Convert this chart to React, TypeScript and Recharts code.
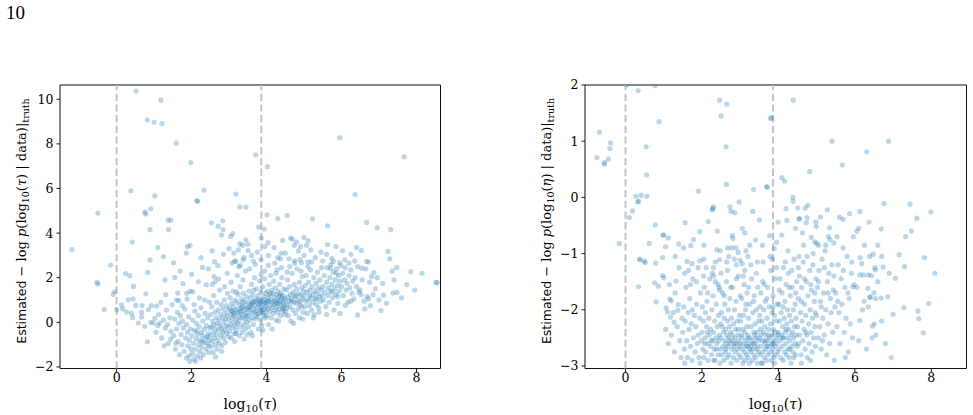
import React from 'react';
import { ScatterChart, Scatter, XAxis, YAxis, ReferenceLine, ReferenceArea } from 'recharts';

// ---------- data ----------
const tauPoints: [number, number][] = [
  [-1.19,3.27],[-0.5,4.9],[-0.52,1.79],[-0.5,1.72],[-0.16,2.57],[-0.33,0.58],[-0.09,1.25],[-0.05,1.37],[0,0.57],[0.13,0.78],[0.16,0.6],[0.24,2.19],[0.35,2.09],[0.42,3.6],[0.45,1.61],[0.31,1.01],[0.44,1.05],[0.27,0.46],[0.4,0.4],[0.43,0.21],[0.51,0.76],[0.68,0.75],[0.85,0.57],[1.07,0.73],[0.93,0.75],[0.58,-0.03],[0.75,-0.18],[0.82,-0.87],[0.67,0.45],[0.67,0.24],[0.91,0.0],[1.02,0.18],[0.98,-0.03],[1.15,-0.03],[0.78,1.28],[0.83,2.24],[0.89,2.8],[0.89,4.16],[1.29,1.9],[1.31,1.24],[1.55,2.01],[1.52,2.67],[1.89,3.39],[1.96,3.45],[1.86,3.1],[2.14,5.45],[1.63,1.31],[1.66,0.97],[1.77,1.74],[1.87,1.3],[1.96,1.39],[2.03,1.37],[2.18,1.82],[2.29,2.46],[2.39,1.69],[2.61,2.72],[2.63,1.83],
  [0.52,10.37],[1.18,9.96],[0.82,9.07],[1.0,8.97],[1.21,8.91],[1.59,8.03],[1.98,7.16],[3.71,7.51],[0.38,5.9],[1.02,5.67],[2.33,5.93],[2.16,5.43],[3.18,5.75],[3.29,5.17],[3.45,5.17],[0.75,4.94],[0.78,4.86],[0.91,5.09],[1.38,4.58],[1.45,4.58],[2.53,4.46],[2.83,4.55],[2.71,4.31],[2.84,4.16],[1.39,4.16],[3.79,4.27],[4.02,6.98],[5.95,8.28],[7.67,7.42],[6.36,5.73],[4.01,4.82],[4.3,4.65],[4.55,4.79],[5.23,4.64],[5.63,4.33],[6.67,4.48],[6.95,4.24],[7.31,4.16],[3.94,4.18],[3.04,3.85],[3.1,3.98],[2.8,3.91],[3.29,3.52],[3.36,3.46],[3.51,3.22],[3.13,3.1],[3.18,2.73],[3.37,2.79],[3.08,2.66],
  [7.74,1.69],[7.48,1.34],[7.37,1.31],[7.12,1.22],[7.05,0.53],[6.43,0.33],[8.52,1.79],[7.29,2.85],[7.47,2.45],[7.35,2.3],[7.85,2.27],[7.24,3.18],[6.53,3.22],[6.03,3.21],
  [4.64,3.78],[4.43,3.67],[4.69,3.73],[4.04,3.57],[3.86,3.78],[5.11,3.66],[5.07,3.45],[4.91,3.4],[5.18,3.25],[4.74,3.45],[5.63,3.49],[6.67,2.73],[6.72,2.7],[6.86,2.24],[6.54,2.43],[6.65,2.4],[6.49,1.46],[6.52,1.24],[6.68,1.16],[6.72,1.05],[6.77,0.75],[6.84,1.24],[5.96,0.4],[4.39,3.09],[4.37,2.85],[4.75,2.76],[4.89,2.81],[4.93,2.67],[5.1,2.71],[5.74,2.87],[5.78,2.73],[5.95,2.68],[6.09,2.8],[6.2,2.66],[5.71,2.43],[5.86,2.21],
  [1.05,-0.45],[1.12,0.35],[1.2,-0.7],[1.25,0.1],[1.3,-0.25],[1.33,0.55],[1.38,-0.95],[1.42,0.2],[1.45,-0.4],[1.48,0.8],[1.18,0.9],[1.36,-0.1],[1.1,-0.15],[1.27,-1.05],[1.44,-0.75],
  [1.52,-0.6],[1.55,0.15],[1.57,-1.2],[1.6,-0.3],[1.62,0.45],[1.64,-0.85],[1.66,-0.05],[1.68,-1.45],[1.7,0.3],[1.72,-0.55],[1.74,-1.0],[1.76,0.05],[1.78,-0.25],[1.8,-1.3],[1.82,0.6],[1.84,-0.7],[1.86,-1.6],[1.87,-0.1],[1.89,-0.45],[1.9,-1.05],[1.92,0.25],[1.94,-0.8],[1.95,-1.75],[1.97,-0.3],[1.98,-1.2],[1.6,1.0],[1.75,0.75],[1.88,1.05],[1.58,-0.95],[1.93,-1.5],
  [2.01,-0.6],[2.02,-1.4],[2.03,0.1],[2.05,-0.95],[2.06,-1.65],[2.08,-0.35],[2.09,0.5],[2.1,-1.2],[2.12,-0.75],[2.13,-0.05],[2.15,-1.5],[2.16,-0.55],[2.18,0.3],[2.19,-1.0],[2.2,-0.2],[2.22,-1.3],[2.23,-0.8],[2.25,0.65],[2.26,-0.45],[2.27,-1.1],[2.29,-0.6],[2.3,0.05],[2.31,-1.45],[2.33,-0.9],[2.34,-0.3],[2.36,0.4],[2.37,-0.7],[2.38,-1.2],[2.4,-0.15],[2.41,-0.95],[2.43,0.2],[2.44,-0.5],[2.45,-1.35],[2.47,-0.8],[2.48,0.9],[2.49,-0.25],[2.07,0.8],[2.21,1.1],[2.35,1.0],[2.14,-0.4],[2.28,-0.85],[2.42,-0.65],[2.11,-1.75],[2.24,-1.6],[2.46,-1.05],
  [2.5,-0.6],[2.51,0.35],[2.52,-1.1],[2.53,-0.2],[2.54,0.7],[2.55,-0.85],[2.56,0.05],[2.57,-1.35],[2.58,-0.45],[2.59,1.2],[2.6,-0.1],[2.61,-0.7],[2.62,0.45],[2.63,-1.0],[2.64,-0.3],[2.65,0.2],[2.66,-0.55],[2.67,0.9],[2.68,-1.2],[2.69,-0.05],[2.7,-0.8],[2.71,0.55],[2.72,-0.35],[2.73,0.1],[2.74,-0.95],[2.75,1.45],[2.76,-0.15],[2.77,0.35],[2.78,-0.6],[2.79,0.8],[2.8,-0.25],[2.81,-1.05],[2.82,0.2],[2.83,-0.45],[2.84,0.6],[2.85,-0.7],[2.86,0.0],[2.87,1.0],[2.88,-0.35],[2.89,0.4],[2.9,-0.9],[2.91,0.15],[2.92,-0.15],[2.93,0.75],[2.94,-0.5],[2.95,0.3],[2.96,1.3],[2.97,-0.2],[2.98,0.55],[2.99,-0.65],[2.55,1.7],[2.72,1.95],[2.88,1.6],[2.64,-1.55],[2.8,-1.3],
  [3.0,0.1],[3.01,-0.4],[3.02,0.65],[3.03,1.1],[3.04,-0.1],[3.05,0.35],[3.06,-0.7],[3.07,0.85],[3.08,0.2],[3.09,-0.25],[3.1,0.5],[3.11,1.4],[3.12,0.0],[3.13,0.7],[3.14,-0.5],[3.15,0.3],[3.16,1.0],[3.17,-0.15],[3.18,0.55],[3.19,0.15],[3.2,-0.35],[3.21,0.9],[3.22,0.4],[3.23,-0.05],[3.24,1.25],[3.25,0.6],[3.26,0.05],[3.27,-0.6],[3.28,0.8],[3.29,0.25],[3.3,1.6],[3.31,-0.2],[3.32,0.5],[3.33,1.05],[3.34,0.2],[3.35,-0.45],[3.36,0.7],[3.37,0.35],[3.38,1.3],[3.39,-0.1],[3.4,0.55],[3.41,0.95],[3.42,0.15],[3.43,-0.3],[3.44,0.75],[3.45,0.4],[3.46,1.15],[3.47,0.0],[3.48,0.6],[3.49,-0.55],[3.05,1.8],[3.22,2.1],[3.37,1.9],[3.15,-0.85],[3.44,2.3],[3.28,0.45],[3.12,0.4],[3.35,0.9],[3.47,0.25],[3.18,-0.5],[3.26,2.5],[3.4,-0.75],[3.07,0.5],[3.33,0.65],[3.2,1.35],
  [3.5,0.3],[3.51,0.9],[3.52,-0.2],[3.53,1.4],[3.54,0.55],[3.55,0.1],[3.56,1.1],[3.57,0.7],[3.58,-0.45],[3.59,0.4],[3.6,1.7],[3.61,0.85],[3.62,0.2],[3.63,1.25],[3.64,0.6],[3.65,-0.1],[3.66,0.95],[3.67,0.45],[3.68,2.0],[3.69,0.75],[3.7,0.15],[3.71,1.05],[3.72,0.5],[3.73,1.5],[3.74,0.9],[3.75,0.25],[3.76,0.65],[3.77,1.2],[3.78,-0.3],[3.79,0.8],[3.8,0.4],[3.81,1.85],[3.82,1.0],[3.83,0.55],[3.84,0.1],[3.85,1.35],[3.86,0.7],[3.87,-0.15],[3.88,0.95],[3.89,0.45],[3.9,1.6],[3.91,0.8],[3.92,0.3],[3.93,1.15],[3.94,0.6],[3.95,2.3],[3.96,0.9],[3.97,0.2],[3.98,1.3],[3.99,0.7],[3.55,2.4],[3.7,2.6],[3.85,2.15],[3.62,-0.6],[3.9,-0.35],[3.58,0.8],[3.74,0.35],[3.82,0.85],[3.66,1.45],[3.94,1.0],[3.52,0.65],[3.78,1.0],[3.88,0.55],[3.63,0.9],[3.96,0.45],
  [4.0,0.85],[4.01,0.3],[4.02,1.4],[4.03,0.6],[4.04,1.1],[4.05,-0.1],[4.06,0.95],[4.07,1.7],[4.08,0.5],[4.09,1.2],[4.1,0.75],[4.11,2.1],[4.12,0.2],[4.13,1.0],[4.14,1.45],[4.15,0.65],[4.16,0.9],[4.17,1.3],[4.18,0.4],[4.19,1.85],[4.2,0.8],[4.21,1.1],[4.22,0.55],[4.23,1.55],[4.24,0.95],[4.25,0.1],[4.26,1.25],[4.27,0.7],[4.28,2.35],[4.29,1.0],[4.3,0.45],[4.31,1.4],[4.32,0.85],[4.33,1.15],[4.34,0.6],[4.35,1.7],[4.36,0.95],[4.37,0.3],[4.38,1.3],[4.39,0.8],[4.4,1.05],[4.41,2.0],[4.42,0.65],[4.43,1.2],[4.44,0.5],[4.45,0.9],[4.46,1.5],[4.47,0.75],[4.48,1.1],[4.49,0.35],[4.05,2.55],[4.22,2.65],[4.4,2.45],[4.15,-0.3],[4.32,0.05],[4.1,1.3],[4.26,0.85],[4.36,1.2],[4.45,0.6],[4.03,0.95],
  [4.5,1.0],[4.51,0.5],[4.53,1.45],[4.54,0.8],[4.56,1.9],[4.57,1.15],[4.58,0.3],[4.6,0.95],[4.61,1.6],[4.63,0.7],[4.64,1.25],[4.65,0.05],[4.67,1.05],[4.68,2.2],[4.7,0.55],[4.71,1.35],[4.73,0.9],[4.74,1.7],[4.76,1.15],[4.77,0.4],[4.79,0.85],[4.8,1.5],[4.81,2.4],[4.83,1.0],[4.84,0.6],[4.86,1.3],[4.87,0.2],[4.88,1.8],[4.9,0.95],[4.91,1.2],[4.93,0.7],[4.94,1.55],[4.95,2.05],[4.97,1.05],[4.98,0.45],[4.99,1.4],[4.55,0.65],[4.66,0.95],[4.78,1.2],[4.89,0.8],[4.62,2.5],[4.75,2.65],[4.92,2.3],[4.72,-0.05],[4.96,0.15],
  [5.0,1.2],[5.02,0.7],[5.03,1.65],[5.05,0.95],[5.06,2.1],[5.08,1.35],[5.09,0.4],[5.11,1.0],[5.12,1.8],[5.14,0.75],[5.15,1.45],[5.17,2.35],[5.18,1.1],[5.2,0.55],[5.21,1.6],[5.23,0.9],[5.24,1.25],[5.26,2.0],[5.27,0.35],[5.29,1.4],[5.3,1.05],[5.32,1.75],[5.33,0.8],[5.35,1.3],[5.36,2.25],[5.38,1.55],[5.39,0.65],[5.41,1.15],[5.42,1.9],[5.44,0.95],[5.45,1.45],[5.47,2.45],[5.48,1.2],[5.1,2.5],[5.25,0.2],[5.4,0.45],[5.15,1.2],[5.33,1.05],
  [5.5,1.6],[5.52,1.0],[5.54,2.1],[5.56,1.35],[5.58,0.7],[5.6,1.8],[5.62,2.45],[5.63,1.2],[5.65,1.55],[5.67,0.9],[5.69,2.0],[5.7,1.4],[5.72,2.6],[5.74,1.7],[5.76,1.1],[5.78,2.25],[5.8,0.55],[5.81,1.5],[5.83,1.9],[5.85,1.25],[5.87,2.4],[5.89,1.65],[5.9,0.85],[5.92,2.1],[5.94,1.4],[5.96,1.85],[5.98,2.55],[5.6,0.35],[5.75,1.35],[5.9,1.15],
  [6.0,1.6],[6.03,2.2],[6.05,1.2],[6.08,1.9],[6.1,2.45],[6.12,1.45],[6.15,1.75],[6.17,0.9],[6.2,2.1],[6.22,1.55],[6.25,2.35],[6.28,1.3],[6.3,1.85],[6.33,1.05],[6.36,2.0],[6.4,1.6],[6.43,2.5],[6.46,1.35],[6.1,0.75],[6.25,0.95],
  [6.55,1.9],[6.6,0.95],[6.75,1.8],[6.9,1.5],[6.95,2.0],[7.0,1.0],[7.1,1.75],[7.2,0.85],[7.4,1.9],[6.62,0.6],[6.8,2.05],[7.6,1.1],[7.95,1.45],[8.15,2.2],[8.55,1.78],
  [1.7,2.3],[2.0,2.15],[2.25,2.9],[2.45,2.4],[2.55,3.2],[2.7,2.55],[2.85,3.05],[2.95,2.2],[3.0,3.3],[3.15,2.75],[3.25,3.25],[3.4,2.9],[3.5,3.5],[3.6,3.0],[3.75,3.15],[3.85,2.8],[3.95,3.4],[4.05,3.0],[4.2,3.35],[4.3,2.9],[4.5,3.1],[4.6,2.85],[4.85,3.2],[5.0,3.0],[5.3,2.9],[5.45,3.15],[5.6,3.05],[5.85,3.4],[6.25,3.05],[6.4,3.35],[3.95,1.95],[4.25,2.2],[4.55,2.25],[5.2,2.7],[5.5,2.75],[6.35,2.75],[3.3,2.55],[3.65,2.75],[2.6,2.05],[4.8,3.6],[5.0,3.8],[3.45,3.7],[1.25,2.95],[1.1,3.35],
];

const etaPoints: [number, number][] = [
  [-0.75,0.71],[-0.68,1.16],[-0.55,0.62],[-0.55,0.59],[-0.45,0.68],[-0.41,0.87],[-0.39,0.97],[-0.16,-0.82],[0.1,-0.36],[0.18,-0.24],[0.27,0.02],[0.32,-0.08],[0.37,-1.1],[0.34,-1.59],[0.03,2.0],[0.33,1.9],[0.77,1.99],[0.88,1.35],[0.54,0.9],[0.55,0.4],[0.41,0.04],[0.56,0.02],[0.34,-0.07],[0.78,-0.49],[1.56,-0.45],[1.91,0.11],[2.46,1.73],[2.65,1.66],[2.5,1.45],[2.63,0.9],[2.64,0.23],[2.3,-0.17],[2.27,-0.22],[2.73,-0.17],[2.76,-0.25],[2.86,-0.27],[2.97,-0.08],[2.17,-0.43],[3.35,0.14],[3.33,-0.25],[3.69,0.19],[3.71,0.18],[3.79,1.41],[3.82,1.41],[3.99,-0.44],[4.22,-0.41],[4.39,1.73],[4.09,0.35],[4.16,0.29],[4.38,0.0],[4.38,-0.07],[4.51,-0.19],[4.53,-0.38],
  [6.31,0.81],[5.67,0.58],[4.82,0.46],[4.77,-0.14],[4.7,-0.19],[5.28,-0.22],[6.76,-0.11],[7.44,-0.12],[7.99,-0.26],[7.62,-0.37],[6.13,-0.25],[5.86,-0.29],[5.69,-0.39],[6.37,-0.44],[6.69,-0.56],[7.48,-0.6],[7.33,-0.7],[4.56,-0.38],[4.75,-0.36],[4.73,-0.45],[4.98,-0.44],[4.99,-0.52],[5.34,-0.54],[4.09,-0.67],[4.63,-0.63],[4.86,-0.71],[5.31,-0.7],[5.53,-0.7],[4.95,-0.79],[5.0,-0.82],[5.24,-0.85],[5.45,-0.81],[5.4,1.0],[6.88,1.0],
  [7.93,-1.89],[7.65,-2.02],[7.67,-2.16],[7.28,-1.96],[7.79,-2.41],[7.0,-2.08],[6.86,-1.77],[6.69,-1.79],[6.54,-1.8],[6.5,-1.7],[6.4,-1.78],[6.24,-1.85],[6.13,-2.19],[6.51,-2.25],[6.55,-2.45],[6.46,-2.29],[7.06,-1.44],[7.16,-1.02],[7.3,-1.23],[7.82,-1.07],[8.09,-1.35],[6.48,-1.01],[6.39,-1.05],[6.14,-1.07],[6.18,-1.18],[6.52,-1.25],[6.54,-1.29],[6.74,-1.24],[6.43,-1.39],[6.13,-1.38],[6.22,-1.38],[6.35,-1.38],[5.95,-1.59],[6.34,-1.62],[6.39,-1.77],
  [0.38,-1.11],[0.5,-1.13],[0.51,-1.16],[0.62,-0.82],[0.79,-1.17],[0.76,-1.52],[0.86,-1.58],[0.8,-1.86],[0.97,-1.07],[0.98,-0.67],[1.0,-0.67],[1.12,-0.72],[1.05,-0.88],[0.97,-1.39],[1.0,-1.43],[1.06,-1.97],[1.1,-2.04],[1.18,-2.13],[1.27,-2.22],[1.16,-1.81],[1.2,-1.84],[1.32,-1.49],[1.38,-1.91],[1.37,-2.01],[1.39,-0.83],[1.52,-0.9],[1.61,-1.14],[1.74,-1.18],[1.71,-0.86],[1.78,-0.75],[1.94,-0.61],[1.95,-1.13],[2.04,-1.4],[2.28,-0.2],[3.12,-0.63],[2.79,-0.68],[2.81,-0.73],[2.67,-0.9],[2.78,-0.9],[2.89,-0.9],[2.95,-0.98],[3.4,-0.76],[3.77,-0.68],[3.89,-0.91],[2.39,-0.93],[2.48,-0.95],[2.46,-1.11],[2.65,-1.15],[2.85,-1.1],[2.9,-1.2],[3.0,-1.12],[3.05,-1.18],[3.2,-1.05],[3.25,-0.85],[2.3,-1.25],[2.3,-1.4],[2.35,-1.5],[2.42,-1.55],[2.45,-1.6],
  [1.55,-1.35],[1.7,-1.55],[1.9,-1.25],[2.05,-1.1],[2.15,-1.7],[2.35,-1.15],[2.5,-1.35],[2.58,-1.75],[2.7,-1.05],[2.75,-1.6],[2.9,-1.45],[3.0,-1.75],[3.08,-1.4],[3.15,-1.9],[3.22,-1.6],[3.35,-1.85],[3.45,-1.15],[3.52,-1.95],[3.63,-1.55],[3.7,-1.8],[3.78,-1.05],[3.85,-1.95],[3.95,-1.25],[4.02,-1.65],[4.12,-1.95],[4.18,-1.15],[4.28,-1.6],[4.35,-1.3],[4.45,-1.7],[4.52,-1.25],[4.6,-1.85],[4.68,-1.45],[4.75,-1.05],[4.85,-1.55],[4.95,-1.7],[5.05,-1.5],[5.12,-1.95],[5.2,-1.25],[5.3,-1.7],[5.45,-1.4],[5.55,-1.85],[5.7,-1.3],[5.82,-1.7],[5.92,-1.15],[3.05,-0.55],[3.5,-0.4],[3.95,-0.8],[4.45,-0.55],[2.4,-0.6],[2.05,-0.85],[1.3,-1.05],[5.6,-0.35],[5.1,-0.35],[4.2,-0.2],[3.58,-0.85],[3.15,-0.95],[6.1,-0.55],[6.25,-0.85],[6.7,-1.05],
  [1.05,-2.35],[1.12,-2.6],[1.2,-2.45],[1.28,-2.75],[1.35,-2.3],[1.42,-2.55],[1.48,-2.15],[1.15,-1.55],[1.3,-1.7],[1.45,-2.85],[1.25,-2.05],[1.4,-1.25],
  [1.5,-2.4],[1.52,-1.95],[1.54,-2.7],[1.56,-2.2],[1.58,-1.6],[1.6,-2.55],[1.62,-2.85],[1.64,-2.05],[1.66,-2.35],[1.68,-1.8],[1.7,-2.65],[1.72,-2.25],[1.74,-2.9],[1.76,-1.45],[1.78,-2.5],[1.8,-2.1],[1.82,-2.75],[1.84,-2.3],[1.86,-1.9],[1.88,-2.6],[1.9,-2.45],[1.92,-2.85],[1.94,-2.15],[1.96,-1.7],[1.98,-2.55],[1.65,-1.3],[1.85,-1.5],[1.75,-2.0],[1.95,-2.95],[1.55,-2.95],
  [2.0,-2.4],[2.01,-1.95],[2.02,-2.7],[2.04,-2.2],[2.05,-2.85],[2.06,-1.6],[2.08,-2.5],[2.09,-2.05],[2.1,-2.75],[2.12,-2.3],[2.13,-1.85],[2.15,-2.6],[2.16,-2.9],[2.18,-2.15],[2.19,-2.45],[2.2,-1.45],[2.22,-2.65],[2.23,-2.35],[2.25,-2.8],[2.26,-2.0],[2.28,-2.55],[2.29,-1.75],[2.3,-2.4],[2.32,-2.7],[2.33,-2.2],[2.34,-2.9],[2.36,-2.5],[2.37,-1.9],[2.39,-2.6],[2.4,-2.3],[2.42,-2.8],[2.43,-2.1],[2.45,-2.45],[2.46,-1.65],[2.48,-2.7],[2.49,-2.25],[2.07,-2.6],[2.14,-2.4],[2.24,-2.55],[2.31,-2.9],[2.38,-2.7],[2.44,-2.55],[2.11,-1.25],[2.27,-1.35],[2.47,-2.95],
  [2.5,-2.5],[2.51,-2.05],[2.52,-2.8],[2.53,-2.3],[2.54,-1.7],[2.55,-2.65],[2.56,-2.4],[2.57,-2.9],[2.58,-2.15],[2.59,-2.55],[2.6,-1.9],[2.61,-2.75],[2.62,-2.35],[2.63,-2.6],[2.64,-1.5],[2.65,-2.45],[2.66,-2.85],[2.67,-2.2],[2.68,-2.65],[2.69,-2.0],[2.7,-2.5],[2.71,-2.8],[2.72,-2.3],[2.73,-1.8],[2.74,-2.6],[2.75,-2.4],[2.76,-2.95],[2.77,-2.15],[2.78,-2.7],[2.79,-2.45],[2.8,-1.6],[2.81,-2.55],[2.82,-2.85],[2.83,-2.25],[2.84,-2.65],[2.85,-2.0],[2.86,-2.5],[2.87,-2.75],[2.88,-2.35],[2.89,-1.85],[2.9,-2.6],[2.91,-2.9],[2.92,-2.2],[2.93,-2.7],[2.94,-2.45],[2.95,-1.4],[2.96,-2.55],[2.97,-2.8],[2.98,-2.1],[2.99,-2.65],[2.62,-2.7],[2.72,-2.55],[2.85,-2.6],[2.95,-2.35],[2.67,-1.3],
  [3.0,-2.6],[3.01,-2.2],[3.02,-2.85],[3.03,-2.45],[3.04,-1.8],[3.05,-2.7],[3.06,-2.35],[3.07,-2.95],[3.08,-2.1],[3.09,-2.6],[3.1,-1.55],[3.11,-2.75],[3.12,-2.4],[3.13,-2.9],[3.14,-2.0],[3.15,-2.55],[3.16,-2.8],[3.17,-2.3],[3.18,-1.7],[3.19,-2.65],[3.2,-2.45],[3.21,-2.85],[3.22,-2.15],[3.23,-2.6],[3.24,-2.95],[3.25,-1.9],[3.26,-2.5],[3.27,-2.75],[3.28,-2.3],[3.29,-2.65],[3.3,-1.45],[3.31,-2.55],[3.32,-2.9],[3.33,-2.05],[3.34,-2.7],[3.35,-2.4],[3.36,-2.8],[3.37,-1.75],[3.38,-2.6],[3.39,-2.25],[3.4,-2.85],[3.41,-2.5],[3.42,-2.0],[3.43,-2.7],[3.44,-2.4],[3.45,-2.95],[3.46,-1.6],[3.47,-2.55],[3.48,-2.75],[3.49,-2.2],[3.05,-2.5],[3.15,-2.65],[3.25,-2.7],[3.35,-2.6],[3.45,-2.65],[3.12,-1.3],[3.28,-1.2],[3.42,-1.35],[3.2,-2.5],[3.38,-2.45],
  [3.5,-2.5],[3.51,-2.1],[3.52,-2.8],[3.53,-2.35],[3.54,-1.7],[3.55,-2.65],[3.56,-2.95],[3.57,-2.2],[3.58,-2.55],[3.59,-1.5],[3.6,-2.75],[3.61,-2.4],[3.62,-2.0],[3.63,-2.85],[3.64,-2.3],[3.65,-2.6],[3.66,-1.85],[3.67,-2.7],[3.68,-2.45],[3.69,-2.9],[3.7,-2.15],[3.71,-2.55],[3.72,-1.6],[3.73,-2.8],[3.74,-2.35],[3.75,-2.65],[3.76,-1.95],[3.77,-2.5],[3.78,-2.75],[3.79,-2.25],[3.8,-1.3],[3.81,-2.6],[3.82,-2.9],[3.83,-2.05],[3.84,-2.45],[3.85,-2.7],[3.86,-1.75],[3.87,-2.35],[3.88,-2.85],[3.89,-2.55],[3.9,-2.1],[3.91,-2.65],[3.92,-1.45],[3.93,-2.4],[3.94,-2.8],[3.95,-2.2],[3.96,-2.6],[3.97,-1.9],[3.98,-2.75],[3.99,-2.45],[3.55,-2.45],[3.65,-2.55],[3.75,-2.45],[3.85,-2.6],[3.95,-2.5],[3.6,-1.15],[3.84,-1.1],[3.7,-2.65],[3.9,-2.95],[3.58,-2.95],
  [4.0,-2.4],[4.01,-1.9],[4.02,-2.7],[4.03,-2.2],[4.04,-1.45],[4.05,-2.55],[4.06,-2.85],[4.07,-2.05],[4.08,-2.45],[4.09,-1.7],[4.1,-2.65],[4.11,-2.3],[4.12,-2.9],[4.13,-1.25],[4.14,-2.5],[4.15,-2.15],[4.16,-2.75],[4.17,-1.85],[4.18,-2.4],[4.19,-2.6],[4.2,-1.55],[4.21,-2.8],[4.22,-2.25],[4.23,-2.5],[4.24,-2.0],[4.25,-2.7],[4.26,-1.35],[4.27,-2.35],[4.28,-2.85],[4.29,-2.1],[4.3,-2.55],[4.31,-1.75],[4.32,-2.45],[4.33,-2.95],[4.34,-2.2],[4.35,-2.65],[4.36,-1.6],[4.37,-2.4],[4.38,-2.75],[4.39,-2.0],[4.4,-2.5],[4.41,-1.1],[4.42,-2.3],[4.43,-2.6],[4.44,-1.9],[4.45,-2.8],[4.46,-2.15],[4.47,-2.45],[4.48,-1.5],[4.49,-2.65],[4.1,-2.5],[4.2,-2.35],[4.3,-2.7],[4.4,-2.85],[4.25,-0.95],
  [4.5,-2.3],[4.52,-1.8],[4.53,-2.6],[4.55,-1.4],[4.56,-2.45],[4.58,-2.05],[4.59,-2.8],[4.61,-1.6],[4.62,-2.2],[4.64,-2.55],[4.65,-1.15],[4.67,-2.35],[4.68,-1.9],[4.7,-2.7],[4.71,-2.1],[4.73,-1.5],[4.74,-2.45],[4.76,-2.85],[4.77,-1.75],[4.79,-2.25],[4.8,-2.6],[4.82,-1.3],[4.83,-2.0],[4.85,-2.4],[4.86,-1.65],[4.88,-2.75],[4.89,-2.15],[4.91,-1.0],[4.92,-2.5],[4.94,-1.85],[4.95,-2.3],[4.97,-2.65],[4.98,-1.45],[4.6,-2.95],[4.72,-2.4],[4.84,-2.9],[4.96,-2.05],[4.66,-0.85],[4.9,-1.2],[4.54,-1.05],
  [5.0,-2.1],[5.02,-1.6],[5.04,-2.5],[5.06,-1.3],[5.08,-2.3],[5.1,-1.85],[5.12,-2.7],[5.14,-1.1],[5.16,-2.15],[5.18,-1.7],[5.2,-2.45],[5.22,-0.95],[5.24,-2.0],[5.26,-2.8],[5.28,-1.5],[5.3,-2.25],[5.32,-1.35],[5.34,-2.6],[5.36,-1.8],[5.38,-2.05],[5.4,-1.2],[5.42,-2.4],[5.44,-1.65],[5.46,-2.9],[5.48,-1.95],[5.15,-2.55],[5.35,-0.75],[5.05,-0.85],
  [5.5,-1.7],[5.53,-2.3],[5.56,-1.2],[5.58,-2.05],[5.61,-2.6],[5.64,-1.45],[5.66,-1.9],[5.69,-0.9],[5.72,-2.4],[5.74,-1.6],[5.77,-2.15],[5.8,-1.05],[5.83,-2.75],[5.85,-1.8],[5.88,-2.25],[5.91,-1.35],[5.94,-2.5],[5.96,-0.7],[5.98,-1.55],[5.75,-2.85],
  [6.05,-1.6],[6.1,-2.55],[6.2,-2.0],[6.3,-2.7],[6.35,-1.95],[6.45,-2.5],[6.6,-1.5],[6.7,-2.2],[6.8,-2.6],[6.9,-1.35],[6.05,-0.6],[6.6,-0.85],[6.95,-2.85],
];

const xTicks = [0, 2, 4, 6, 8];
const tauYTicks = [-2, 0, 2, 4, 6, 8, 10];
const etaYTicks = [-3, -2, -1, 0, 1, 2];
const markerLines = [0, 3.86];
const tauXDomain: [number, number] = [-1.51, 8.64];
const tauYDomain: [number, number] = [-2.07, 10.64];
const etaXDomain: [number, number] = [-1.06, 8.92];
const etaYDomain: [number, number] = [-3.045, 2.0];

// ---------- styling ----------
const BLUE = '#1f77b4';
const SERIF = '"DejaVu Serif", "Liberation Serif", serif';
const SANS = '"DejaVu Sans", "Noto Sans", sans-serif';
const tickStyle = { fontFamily: SERIF, fontSize: 12.5, fill: '#000' };

const fmt = (v: number) => (v < 0 ? `\u2212${Math.abs(v)}` : `${v}`);

const Dot = (props: any) => (
  <circle cx={props.cx} cy={props.cy} r={2.6} fill={BLUE} fillOpacity={0.3} stroke="none" />
);

const makeYLabel = (sym: string) => (props: any) => {
  const vb = props.viewBox || {};
  const cx = vb.x + 26;
  const cy = 221;
  return (
    <text
      x={cx}
      y={cy}
      transform={`rotate(-90 ${cx} ${cy})`}
      textAnchor="middle"
      fill="#000"
      fontSize={13}
      fontFamily={SERIF}
    >
      <tspan fontFamily={SANS} fontSize={12.5}>Estimated</tspan>
      <tspan>{' \u2212 log '}</tspan>
      <tspan fontStyle="italic">p</tspan>
      <tspan>(log</tspan>
      <tspan fontSize={9.5} dy={3}>10</tspan>
      <tspan dy={-3}>(</tspan>
      <tspan fontStyle="italic">{sym}</tspan>
      <tspan>{') | data)|'}</tspan>
      <tspan fontSize={9.5} dy={3}>truth</tspan>
    </text>
  );
};

const XLabel = (props: any) => {
  const vb = props.viewBox || {};
  const cx = vb.x + vb.width / 2;
  const cy = vb.y + 40.5;
  return (
    <text x={cx} y={cy} textAnchor="middle" fill="#000" fontSize={14} fontFamily={SERIF}>
      <tspan>log</tspan>
      <tspan fontSize={10} dy={3}>10</tspan>
      <tspan dy={-3}>(</tspan>
      <tspan fontStyle="italic">{'\u03C4'}</tspan>
      <tspan>)</tspan>
    </text>
  );
};

type PanelProps = {
  points: [number, number][];
  xDomain: [number, number];
  yDomain: [number, number];
  yTicks: number[];
  sym: string;
  width: number;
  marginLeft: number;
  marginRight: number;
};

const Panel = ({ points, xDomain, yDomain, yTicks, sym, width, marginLeft, marginRight }: PanelProps) => {
  const data = points.map(([x, y]) => ({ x, y }));
  return (
    <ScatterChart
      width={width}
      height={415}
      margin={{ top: 85, right: marginRight, bottom: 6.5, left: marginLeft }}
    >
      <XAxis
        type="number"
        dataKey="x"
        domain={xDomain}
        ticks={xTicks}
        allowDataOverflow
        interval={0}
        height={40}
        tickSize={3.5}
        tickMargin={1}
        axisLine={false}
        tickLine={{ stroke: '#000', strokeWidth: 0.9 }}
        tick={tickStyle}
        tickFormatter={fmt}
        label={<XLabel />}
      />
      <YAxis
        type="number"
        dataKey="y"
        domain={yDomain}
        ticks={yTicks}
        allowDataOverflow
        interval={0}
        width={60}
        tickSize={3.5}
        tickMargin={3}
        axisLine={false}
        tickLine={{ stroke: '#000', strokeWidth: 0.9 }}
        tick={tickStyle}
        tickFormatter={fmt}
        label={makeYLabel(sym)}
      />
      {markerLines.map((v) => (
        <ReferenceLine
          key={v}
          x={v}
          stroke="#c4c4c4"
          strokeWidth={2}
          strokeDasharray="7.3 3.4"
        />
      ))}
      <Scatter data={data} shape={Dot} isAnimationActive={false} />
      <ReferenceArea
        x1={xDomain[0]}
        x2={xDomain[1]}
        y1={yDomain[0]}
        y2={yDomain[1]}
        fill="none"
        fillOpacity={0}
        stroke="#111"
        strokeWidth={1}
        ifOverflow="visible"
      />
    </ScatterChart>
  );
};

export default function App() {
  return (
    <div style={{ position: 'absolute', left: 0, top: 0, width: 973, height: 415, background: '#fff' }}>
      <div
        style={{
          position: 'absolute',
          left: 6,
          top: 1,
          fontFamily: '"Liberation Serif", serif',
          fontSize: 19,
          lineHeight: '24px',
          color: '#000',
        }}
      >
        10
      </div>
      <div style={{ position: 'absolute', left: 0, top: 0 }}>
        <Panel
          points={tauPoints}
          xDomain={tauXDomain}
          yDomain={tauYDomain}
          yTicks={tauYTicks}
          sym={'\u03C4'}
          width={480}
          marginLeft={0}
          marginRight={39.5}
        />
      </div>
      <div style={{ position: 'absolute', left: 500, top: 0 }}>
        <Panel
          points={etaPoints}
          xDomain={etaXDomain}
          yDomain={etaYDomain}
          yTicks={etaYTicks}
          sym={'\u03B7'}
          width={473}
          marginLeft={25}
          marginRight={6.5}
        />
      </div>
    </div>
  );
}
